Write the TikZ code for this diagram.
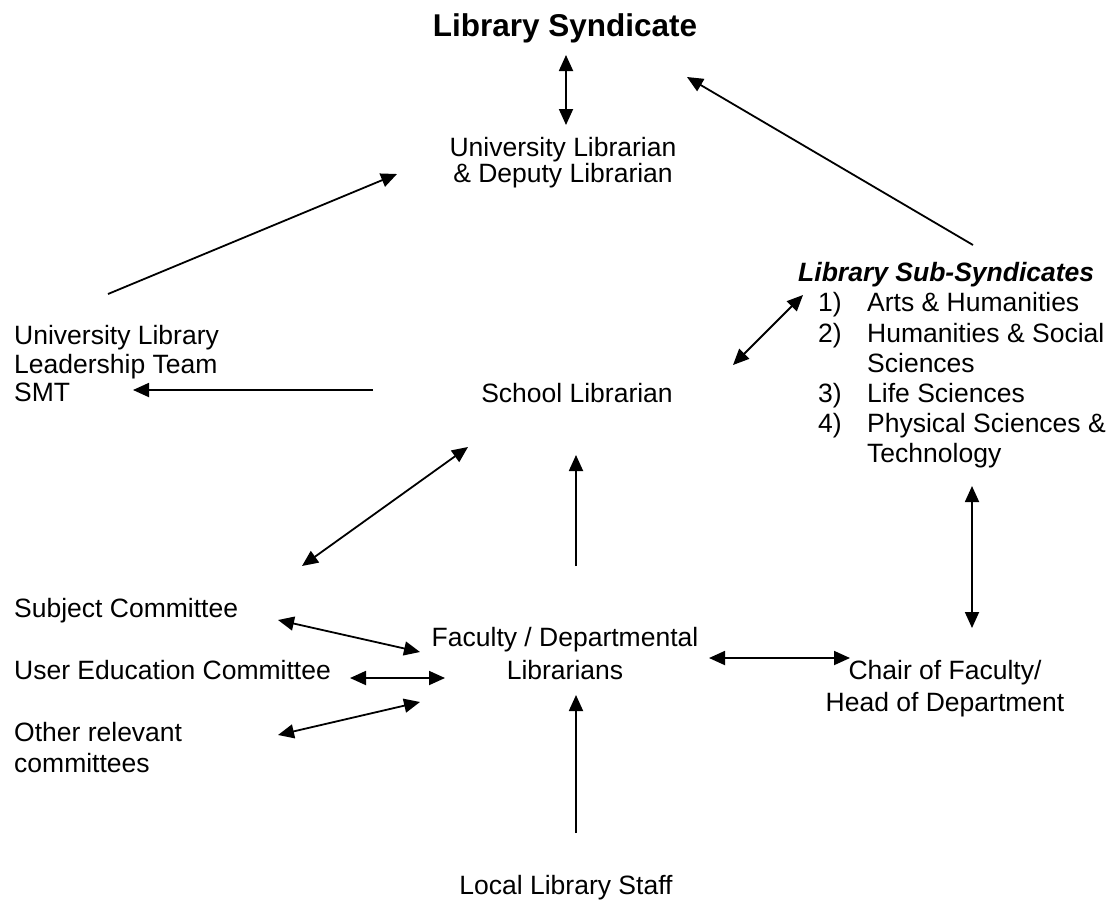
\documentclass[tikz,border=0pt]{standalone}
\usepackage{fontspec}
\setmainfont{Liberation Sans}
\usetikzlibrary{arrows.meta}
\newcommand\lstr{\rule{0pt}{22pt}}
\newcommand\tstr{\rule{0pt}{26pt}}
\tikzset{
  txt/.style={inner sep=0pt, font=\fontsize{26.5}{30}\selectfont},
  onearrow/.style={-{Triangle[length=16pt,width=14pt]}, line width=1.8pt},
  twoarrow/.style={{Triangle[length=16pt,width=14pt]}-{Triangle[length=16pt,width=14pt]}, line width=1.8pt},
}
\begin{document}
\begin{tikzpicture}[x=1pt,y=-1pt]
\useasboundingbox[fill=white] (0,0) rectangle (1113,903);

% texts
\node[inner sep=0pt, anchor=north, font=\fontsize{31.5}{36}\selectfont\bfseries] (title) at (565,10) {\tstr Library Syndicate};
\node[txt, anchor=north, align=center, font=\fontsize{26.5}{25.5}\selectfont] (ulib) at (563,134.5) {\lstr University Librarian\\ \& Deputy Librarian};
\node[txt, anchor=north west, align=left, font=\fontsize{26.5}{28.5}\selectfont] (ullt) at (14,322.5) {\lstr University Library\\ Leadership Team\\ SMT};
\node[txt, anchor=north] (school) at (577,380.5) {\lstr School Librarian};
\node[txt, anchor=north west, align=left, font=\fontsize{26.5}{30.2}\selectfont] (subsyn) at (798,259.5) {\lstr\textbf{\textit{Library Sub-Syndicates}}\\
\hspace*{20pt}\makebox[49pt][l]{1)}Arts \& Humanities\\
\hspace*{20pt}\makebox[49pt][l]{2)}Humanities \& Social\\
\hspace*{69pt}Sciences\\
\hspace*{20pt}\makebox[49pt][l]{3)}Life Sciences\\
\hspace*{20pt}\makebox[49pt][l]{4)}Physical Sciences \&\\
\hspace*{69pt}Technology};
\node[txt, anchor=north west] (subj) at (14,595.5) {\lstr Subject Committee};
\node[txt, anchor=north west] (usered) at (14,657.5) {\lstr User Education Committee};
\node[txt, anchor=north west, align=left, font=\fontsize{26.5}{31}\selectfont] (other) at (14,719.5) {\lstr Other relevant\\ committees};
\node[txt, anchor=north, align=center, font=\fontsize{26.5}{33}\selectfont] (faculty) at (565,624.5) {\lstr Faculty / Departmental\\ Librarians};
\node[txt, anchor=north, align=center, font=\fontsize{26.5}{32}\selectfont] (chair) at (945,657.5) {\lstr Chair of Faculty/\\ Head of Department};
\node[txt, anchor=north] (local) at (566,872.5) {\lstr Local Library Staff};

% connector end points
\coordinate (titleS) at (566,55);
\coordinate (ulibN) at (566,125);
\coordinate (subsynNW) at (973,245);
\coordinate (titleSE) at (687,77);
\coordinate (ulltNE) at (108,294);
\coordinate (ulibW) at (397,174);
\coordinate (schoolW) at (373,390);
\coordinate (ulltE) at (133,390);
\coordinate (subsynW) at (803,295);
\coordinate (schoolE) at (733,365);
\coordinate (facultyN) at (576,566);
\coordinate (schoolS) at (576,455);
\coordinate (subjNE) at (302,566);
\coordinate (schoolSW) at (468,447);
\coordinate (subjE) at (278,620);
\coordinate (facultyNW) at (420,652);
\coordinate (useredE) at (350,678);
\coordinate (facultyW) at (445,678);
\coordinate (otherE) at (278,735);
\coordinate (facultySW) at (420,702);
\coordinate (facultyE) at (709,658);
\coordinate (chairW) at (850,658);
\coordinate (subsynS) at (972,486);
\coordinate (chairN) at (972,628);
\coordinate (localN) at (576,833);
\coordinate (facultyS) at (576,695);

% connectors
\draw[twoarrow] (titleS) -- (ulibN);
\draw[onearrow] (subsynNW) -- (titleSE);
\draw[onearrow] (ulltNE) -- (ulibW);
\draw[onearrow] (schoolW) -- (ulltE);
\draw[twoarrow] (subsynW) -- (schoolE);
\draw[onearrow] (facultyN) -- (schoolS);
\draw[twoarrow] (subjNE) -- (schoolSW);
\draw[twoarrow] (subjE) -- (facultyNW);
\draw[twoarrow] (useredE) -- (facultyW);
\draw[twoarrow] (otherE) -- (facultySW);
\draw[twoarrow] (facultyE) -- (chairW);
\draw[twoarrow] (subsynS) -- (chairN);
\draw[onearrow] (localN) -- (facultyS);
\end{tikzpicture}
\end{document}
